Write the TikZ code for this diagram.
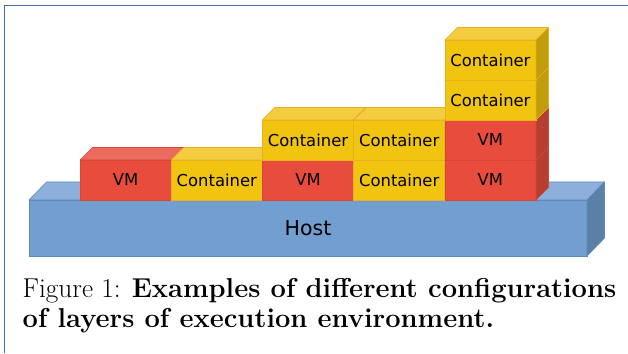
\documentclass[tikz,border=0pt]{standalone}
\usepackage{fontspec}
\newfontfamily\blockfont{DejaVu Sans}
\definecolor{vmfront}{HTML}{E74C3C}
\definecolor{vmtop}{HTML}{EC6B5F}
\definecolor{vmside}{HTML}{B93E32}
\definecolor{vmline}{HTML}{D8463A}
\definecolor{ctfront}{HTML}{F1C40F}
\definecolor{cttop}{HTML}{F3CD3F}
\definecolor{ctside}{HTML}{C29D0B}
\definecolor{ctline}{HTML}{E8B020}
\definecolor{hostfront}{HTML}{729FCF}
\definecolor{hosttop}{HTML}{8CB0DA}
\definecolor{hostside}{HTML}{5B80A8}
\definecolor{hostline}{HTML}{5E89BF}
\definecolor{framecol}{HTML}{4A6C9B}
\tikzset{
  face/.style={inner sep=0pt, outer sep=0pt, line width=0.6pt},
  vm front/.style={face, fill=vmfront, draw=vmline, minimum width=91.2pt, minimum height=40pt,
    font=\blockfont\fontsize{16.4}{19}\selectfont},
  vm top/.style={fill=vmtop, draw=vmline, line width=0.6pt, line join=round},
  vm side/.style={fill=vmside, draw=vmline, line width=0.6pt, line join=round},
  ct front/.style={face, fill=ctfront, draw=ctline, minimum width=91.2pt, minimum height=40pt,
    font=\blockfont\fontsize{16.4}{19}\selectfont},
  ct top/.style={fill=cttop, draw=ctline, line width=0.6pt, line join=round},
  ct side/.style={fill=ctside, draw=ctline, line width=0.6pt, line join=round},
  host front/.style={face, fill=hostfront, draw=hostline, minimum width=558pt, minimum height=56pt,
    font=\blockfont\fontsize{20.5}{24}\selectfont},
  host top/.style={fill=hosttop, draw=hostline, line width=0.6pt, line join=round},
  host side/.style={fill=hostside, draw=hostline, line width=0.6pt, line join=round},
  frameline/.style={draw=framecol, line width=1.3pt},
  caption/.style={anchor=base west, inner sep=0pt, font=\fontsize{27.3}{32}\selectfont},
}
% one box of a stack: name, left x, row, kind (vm/ct), label
\newcommand\stackbox[5]{%
  \node[#4 front, anchor=south west] (#1) at (#2,{153+40*(#3-1)}) {#5};
  \filldraw[#4 top] (#1.north west) -- ++(12.5,12.5)
    -- ([shift={(12.5,12.5)}]#1.north east) -- (#1.north east) -- cycle;
  \filldraw[#4 side] (#1.north east) -- ([shift={(12.5,12.5)}]#1.north east)
    -- ([shift={(12.5,12.5)}]#1.south east) -- (#1.south east) -- cycle;
}
\begin{document}
\begin{tikzpicture}[x=1pt, y=1pt]
\useasboundingbox (0,0) rectangle (628,353);
\fill[white] (0,0) rectangle (628,353);
\draw[frameline] (4.7,0) -- (4.7,347.4) -- (628,347.4);

% host layer
\node[host front, anchor=south west] (host) at (29,97) {Host};
\filldraw[host top] (host.north west) -- ++(17.5,18)
  -- ([shift={(17.5,18)}]host.north east) -- (host.north east) -- cycle;
\filldraw[host side] (host.north east) -- ([shift={(17.5,18)}]host.north east)
  -- ([shift={(17.5,18)}]host.south east) -- (host.south east) -- cycle;

% stacks, drawn left to right and bottom to top
\stackbox{a1}{80}{1}{vm}{VM}
\stackbox{b1}{171.2}{1}{ct}{Container}
\stackbox{c1}{262.4}{1}{vm}{VM}
\stackbox{c2}{262.4}{2}{ct}{Container}
\stackbox{d1}{353.6}{1}{ct}{Container}
\stackbox{d2}{353.6}{2}{ct}{Container}
\stackbox{e1}{444.8}{1}{vm}{VM}
\stackbox{e2}{444.8}{2}{vm}{VM}
\stackbox{e3}{444.8}{3}{ct}{Container}
\stackbox{e4}{444.8}{4}{ct}{Container}

% caption
\node[caption] (cap1) at (22.5,56) {Figure 1: \textbf{Examples of different configurations}};
\node[caption] (cap2) at (22.5,26) {\textbf{of layers of execution environment.}};
\end{tikzpicture}
\end{document}
